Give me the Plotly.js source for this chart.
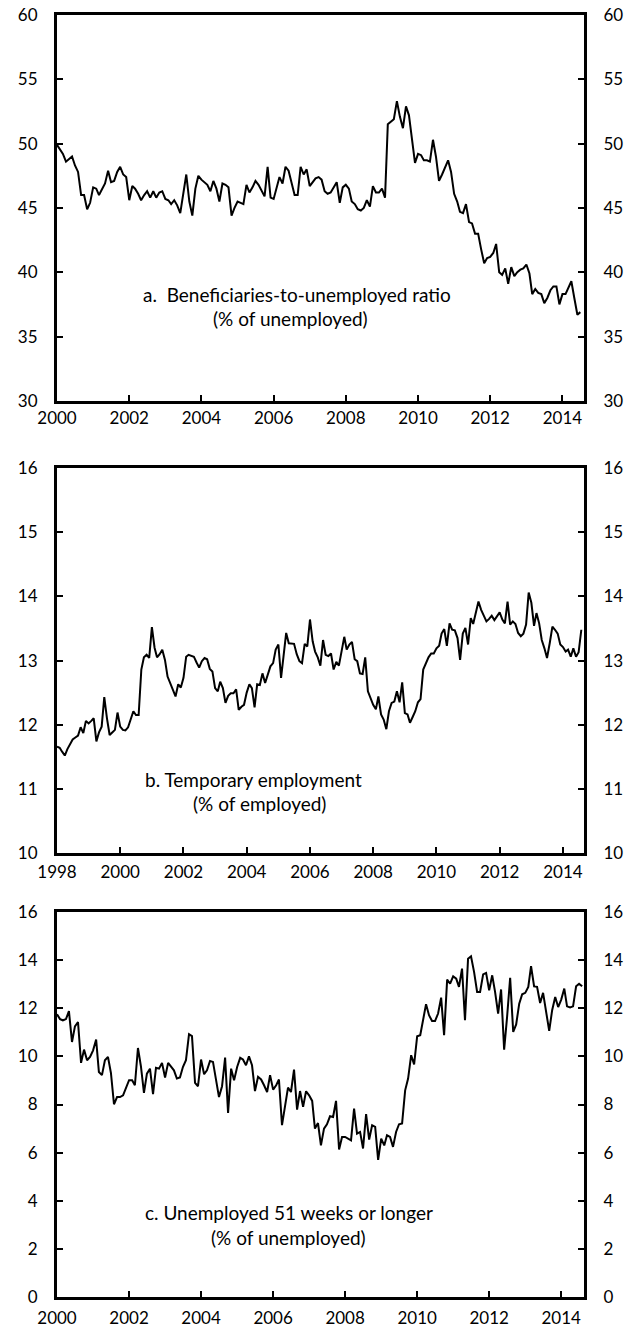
<!DOCTYPE html>
<html><head><meta charset="utf-8">
<script src="https://cdn.plot.ly/plotly-3.0.1.min.js"></script>
<style>html,body{margin:0;padding:0;background:#fff}#chart{width:634px;height:1331px}</style>
</head><body><div id="chart"></div>
<script>
// Panel a: Beneficiaries-to-unemployed ratio, monthly from Jan 2000
const ratioStart = [2000, 1];
const ratioValues = [49.9,49.5,49.2,48.6,48.8,49.0,48.3,47.8,46.0,46.0,
44.9,45.4,46.6,46.5,46.0,46.5,46.9,47.9,47.0,47.1,
47.8,48.2,47.6,47.4,45.6,46.7,46.5,46.1,45.6,46.0,
46.3,45.8,46.3,45.8,46.2,46.3,45.7,45.6,45.3,45.6,
45.2,44.6,46.0,47.6,45.5,44.4,46.5,47.5,47.2,47.0,
46.8,46.3,47.1,46.5,45.5,46.9,46.8,46.6,44.4,45.0,
45.5,45.4,45.3,46.8,46.2,46.6,47.1,46.8,46.4,45.9,
48.2,45.8,45.7,46.5,47.4,46.9,48.2,47.9,47.0,46.0,
46.0,48.2,47.6,48.0,46.7,47.0,47.3,47.4,47.2,46.3,
46.1,46.2,46.6,47.0,45.4,46.6,46.8,46.5,45.5,45.3,
44.9,44.8,45.0,45.6,45.1,46.7,46.2,46.2,46.5,45.8,
51.5,51.7,51.9,53.3,52.1,51.2,52.9,52.2,50.4,48.5,
49.2,49.1,48.7,48.7,48.6,50.3,49.0,47.1,47.6,48.1,
48.7,47.8,46.1,45.5,44.7,44.6,45.3,43.9,43.8,43.0,
43.0,41.8,40.7,41.1,41.2,41.5,42.2,40.0,39.8,40.3,
39.1,40.4,39.7,40.0,40.2,40.3,40.6,39.9,38.3,38.7,
38.4,38.3,37.6,38.0,38.6,38.9,38.9,37.5,38.3,38.3,
38.8,39.3,38.0,36.7,36.9];

// Panel b: Temporary employment, monthly from Jan 1998
const tempStart = [1998, 1];
const tempValues = [11.66,11.64,11.58,11.52,11.62,11.71,11.77,11.80,11.83,11.96,
11.87,12.06,12.02,12.06,12.10,11.74,11.88,11.97,12.43,12.10,
11.84,11.88,11.92,12.19,11.97,11.92,11.91,11.96,12.08,12.21,
12.15,12.15,12.86,13.05,13.09,13.04,13.52,13.20,13.05,13.10,
13.17,13.01,12.75,12.65,12.55,12.44,12.63,12.58,12.73,13.06,
13.09,13.08,13.06,12.97,12.89,12.99,13.04,13.02,12.87,12.83,
12.57,12.52,12.67,12.57,12.34,12.45,12.49,12.49,12.55,12.23,
12.28,12.31,12.50,12.63,12.57,12.27,12.63,12.62,12.80,12.65,
12.80,12.91,12.96,13.17,13.25,12.73,13.06,13.43,13.27,13.27,
13.26,13.10,12.99,12.96,13.26,13.22,13.64,13.30,13.14,13.05,
12.92,13.32,13.09,13.07,13.11,12.86,12.98,12.92,13.13,13.37,
13.17,13.25,13.29,13.02,12.99,12.80,12.79,13.05,12.52,12.41,
12.31,12.24,12.44,12.16,12.08,11.93,12.21,12.34,12.36,12.52,
12.35,12.66,12.18,12.16,12.03,12.12,12.21,12.35,12.40,12.86,
12.96,13.05,13.11,13.11,13.19,13.23,13.42,13.49,13.23,13.58,
13.48,13.47,13.35,13.01,13.42,13.51,13.25,13.66,13.57,13.75,
13.92,13.79,13.71,13.61,13.65,13.70,13.63,13.70,13.75,13.64,
13.58,13.92,13.56,13.61,13.57,13.43,13.38,13.42,13.56,14.06,
13.90,13.54,13.74,13.58,13.32,13.19,13.04,13.27,13.53,13.48,
13.42,13.25,13.21,13.14,13.17,13.06,13.19,13.06,13.13,13.48];

// Panel c: Unemployed 51 weeks or longer, monthly from Jan 2000
const longStart = [2000, 1];
const longValues = [11.75,11.55,11.50,11.55,11.88,10.60,11.25,11.43,9.73,10.28,
9.84,9.98,10.25,10.70,9.35,9.22,9.84,9.98,9.31,8.01,
8.31,8.31,8.38,8.66,9.01,9.01,8.80,10.35,9.59,8.48,
9.28,9.49,8.43,9.53,9.49,9.73,9.12,9.73,9.56,9.42,
9.08,9.12,9.56,9.84,10.92,10.84,8.90,8.76,9.87,9.26,
9.42,9.81,9.77,8.94,8.31,8.76,9.95,7.65,9.49,9.01,
9.56,9.94,9.87,9.63,10.0,9.63,8.56,9.15,9.04,8.80,
8.52,9.22,8.62,8.80,9.04,7.14,7.97,8.70,8.52,9.45,
7.79,8.56,7.90,8.55,8.38,8.15,7.00,7.23,6.3,7.0,
7.18,7.51,7.48,8.15,6.13,6.65,6.65,6.58,6.51,7.83,
6.79,6.86,6.17,7.6,6.54,7.14,7.07,5.7,6.58,6.3,
6.72,6.65,6.24,6.86,7.18,7.21,8.59,9.08,10.05,9.67,
10.84,10.88,11.57,12.17,11.71,11.47,11.47,11.78,12.44,10.88,
13.19,13.02,13.33,13.23,12.89,13.65,11.50,14.06,14.16,13.51,
12.68,12.68,13.41,13.47,12.75,13.37,12.68,11.78,12.78,10.28,
11.64,13.27,11.02,11.33,12.19,12.58,12.64,12.89,13.75,12.91,
12.89,12.22,12.64,11.85,11.06,11.92,12.47,12.05,12.36,12.82,
12.08,12.03,12.08,12.91,13.02,12.91];

const panelTitles = [
  ['a.  Beneficiaries-to-unemployed ratio', '(% of unemployed)'],
  ['b. Temporary employment', '(% of employed)'],
  ['c. Unemployed 51 weeks or longer', '(% of unemployed)']
];

function monthDates(start, n) {
  const out = [];
  for (let i = 0; i < n; i++) {
    const t = start[0] * 12 + (start[1] - 1) + i;
    const y = Math.floor(t / 12), m = t % 12 + 1;
    out.push(y + '-' + String(m).padStart(2, '0') + '-01');
  }
  return out;
}

const FONT = 'Lato, "Open Sans", sans-serif';
const TICKSIZE = 17;
const lineStyle = {color: '#000', width: 2};

const traces = [
  {x: monthDates(ratioStart, ratioValues.length), y: ratioValues, xaxis: 'x', yaxis: 'y', type: 'scatter', mode: 'lines', line: lineStyle},
  {x: monthDates(tempStart, tempValues.length), y: tempValues, xaxis: 'x2', yaxis: 'y3', type: 'scatter', mode: 'lines', line: lineStyle},
  {x: monthDates(longStart, longValues.length), y: longValues, xaxis: 'x3', yaxis: 'y5', type: 'scatter', mode: 'lines', line: lineStyle},
  // empty traces so that the right-hand axes are registered and drawn
  {x: [], y: [], xaxis: 'x', yaxis: 'y2', type: 'scatter', mode: 'lines', showlegend: false},
  {x: [], y: [], xaxis: 'x2', yaxis: 'y4', type: 'scatter', mode: 'lines', showlegend: false},
  {x: [], y: [], xaxis: 'x3', yaxis: 'y6', type: 'scatter', mode: 'lines', showlegend: false}
];

function xAxis(anchor, range, tick0, standoff) {
  return {anchor: anchor, domain: [0, 1], type: 'date', range: range, tick0: tick0, dtick: 'M24', tickformat: '%Y',
    ticks: 'inside', ticklen: 6, tickwidth: 2, tickcolor: '#000', showline: true, linewidth: 3, linecolor: '#000',
    mirror: true, showgrid: false, zeroline: false, ticklabelstandoff: standoff,
    tickfont: {family: FONT, size: TICKSIZE, color: '#000'}};
}
function yAxis(anchor, domain, range, dtick, side, overlay) {
  const a = {anchor: anchor, range: range, dtick: dtick, tick0: range[0], side: side,
    ticks: 'inside', ticklen: 6, tickwidth: 2, tickcolor: '#000', showline: true, linewidth: 3, linecolor: '#000',
    showgrid: false, zeroline: false, showticklabels: true, ticklabelstandoff: 13,
    tickfont: {family: FONT, size: TICKSIZE, color: '#000'}};
  if (overlay) a.overlaying = overlay; else a.domain = domain;
  return a;
}

const dA = [0.699, 1.0], dB = [0.3463, 0.6466], dC = [0.0, 0.3003];

const annotations = [];
const annPos = [
  [[0.4554, 0.7816], [0.444, 0.7629]],
  [[0.372, 0.4033], [0.385, 0.3846]],
  [[0.440, 0.0663], [0.440, 0.0468]]
];
panelTitles.forEach((lines, i) => {
  lines.forEach((t, j) => {
    annotations.push({text: t, xref: 'paper', yref: 'paper', x: annPos[i][j][0], y: annPos[i][j][1],
      xanchor: 'center', yanchor: 'middle', showarrow: false, font: {family: FONT, size: 19, color: '#000'}});
  });
});

const layout = {
  width: 634, height: 1331,
  margin: {l: 57, r: 50, t: 15, b: 34},
  paper_bgcolor: '#fff', plot_bgcolor: '#fff',
  showlegend: false,
  xaxis: xAxis('y', ['2000-01-01', '2014-08-07'], '2000-01-01', 0),
  yaxis: yAxis('x', dA, [30, 60], 5, 'left'),
  yaxis2: yAxis('x', dA, [30, 60], 5, 'right', 'y'),
  xaxis2: xAxis('y3', ['1998-01-01', '2014-09-01'], '1998-01-01', 2),
  yaxis3: yAxis('x2', dB, [10, 16], 1, 'left'),
  yaxis4: yAxis('x2', dB, [10, 16], 1, 'right', 'y3'),
  xaxis3: xAxis('y5', ['2000-01-01', '2014-08-20'], '2000-01-01', 4),
  yaxis5: yAxis('x3', dC, [0, 16], 2, 'left'),
  yaxis6: yAxis('x3', dC, [0, 16], 2, 'right', 'y5'),
  annotations: annotations
};

Plotly.newPlot('chart', traces, layout, {displayModeBar: false, staticPlot: true});
</script>
</body></html>
